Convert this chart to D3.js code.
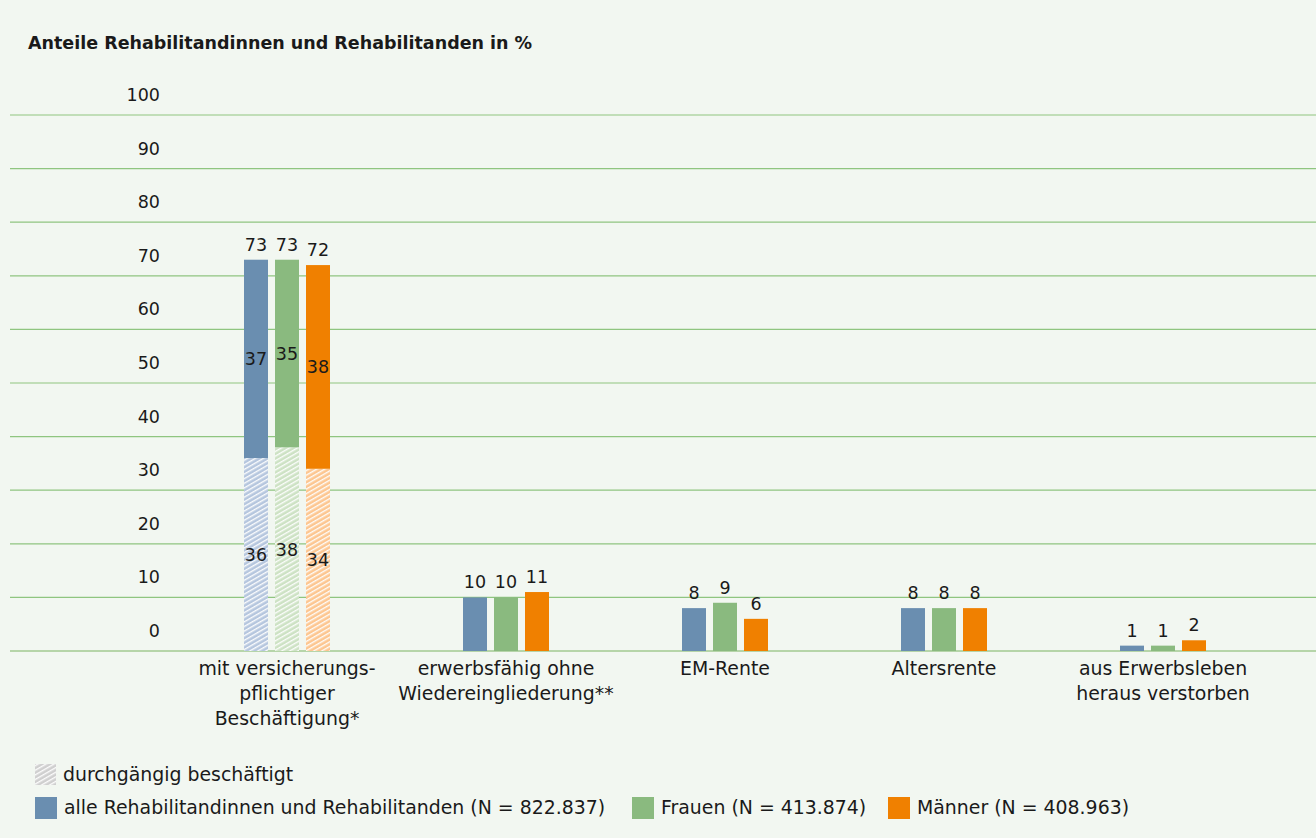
<!DOCTYPE html>
<html><head><meta charset="utf-8">
<script src="https://cdn.jsdelivr.net/npm/d3@7"></script>
<style>
html,body{margin:0;padding:0;background:#f2f7f1;}
svg{display:block;}
text{font-family:"DejaVu Sans",sans-serif;fill:#1a1a1a;}
</style></head>
<body>
<svg id="chart" width="1316" height="838"></svg>
<script>
const categories = [
  ["mit versicherungs-","pflichtiger","Beschäftigung*"],
  ["erwerbsfähig ohne","Wiedereingliederung**"],
  ["EM-Rente"],
  ["Altersrente"],
  ["aus Erwerbsleben","heraus verstorben"]
];
const seriesNames = ["alle Rehabilitandinnen und Rehabilitanden (N = 822.837)","Frauen (N = 413.874)","Männer (N = 408.963)"];
const totals = [
  [73,73,72],
  [10,10,11],
  [8,9,6],
  [8,8,8],
  [1,1,2]
];
// durchgängig beschäftigt (lower hatched part) in category 1
const continuous = [36,38,34];
const upper = [37,35,38];
const yTicks = [0,10,20,30,40,50,60,70,80,90,100];
const colors = ["#6a8eb0","#8aba7f","#f08000"];
const lightColors = ["#b5c6de","#cde2c4","#fdc690"];

const svg = d3.select("#chart");
const W = 1316, H = 838;
svg.append("rect").attr("width",W).attr("height",H).attr("fill","#f2f7f1");

const defs = svg.append("defs");
function hatch(id, bg){
  const p = defs.append("pattern").attr("id",id).attr("patternUnits","userSpaceOnUse")
    .attr("width",4).attr("height",4).attr("patternTransform","rotate(60)");
  p.append("rect").attr("width",4).attr("height",4).attr("fill",bg);
  p.append("line").attr("x1",0.7).attr("y1",0).attr("x2",0.7).attr("y2",4)
    .attr("stroke","#ffffff").attr("stroke-width",1.3);
}
lightColors.forEach((c,i)=>hatch("h"+i,c));
hatch("hg","#cfcfcf");

const y = d3.scaleLinear().domain([0,100]).range([651,115]);
const x = d3.scaleBand().domain(d3.range(categories.length)).range([177.5,1272.5]);
const xs = d3.scaleBand().domain([0,1,2]).range([-43,43]).paddingInner(7/31);

const fs = 17.5;   // numbers
const ft = 18.9;   // words
// title
svg.append("text").attr("x",28).attr("y",49).attr("font-size",17.5).attr("font-weight","bold")
  .text("Anteile Rehabilitandinnen und Rehabilitanden in %");

// gridlines
svg.append("g").selectAll("line").data(yTicks).join("line")
  .attr("x1",10).attr("x2",W).attr("y1",d=>y(d)).attr("y2",d=>y(d))
  .attr("stroke",d=>d===0?"#b6d5a9":"#8fc580").attr("stroke-width",d=>d===0?2:1.2);

// y tick labels (above lines)
svg.append("g").selectAll("text").data(yTicks).join("text")
  .attr("x",160).attr("y",d=>y(d)-14).attr("text-anchor","end").attr("font-size",fs)
  .text(d=>d);

const g = svg.append("g");
totals.forEach((vals,ci)=>{
  const gx = x(ci)+x.bandwidth()/2;
  vals.forEach((v,si)=>{
    const bx = gx + xs(si);
    const bw = xs.bandwidth();
    if(ci===0){
      g.append("rect").attr("x",bx).attr("width",bw)
        .attr("y",y(continuous[si])).attr("height",y(0)-y(continuous[si]))
        .attr("fill","url(#h"+si+")");
      g.append("rect").attr("x",bx).attr("width",bw)
        .attr("y",y(v)).attr("height",y(continuous[si])-y(v))
        .attr("fill",colors[si]);
      g.append("text").attr("x",bx+bw/2).attr("y",(y(v)+y(continuous[si]))/2+6.5)
        .attr("text-anchor","middle").attr("font-size",fs).text(upper[si]);
      g.append("text").attr("x",bx+bw/2).attr("y",(y(continuous[si])+y(0))/2+6.5)
        .attr("text-anchor","middle").attr("font-size",fs).text(continuous[si]);
    } else {
      g.append("rect").attr("x",bx).attr("width",bw)
        .attr("y",y(v)).attr("height",y(0)-y(v)).attr("fill",colors[si]);
    }
    g.append("text").attr("x",bx+bw/2).attr("y",y(v)-9)
      .attr("text-anchor","middle").attr("font-size",fs).text(v);
  });
  const t = svg.append("text").attr("text-anchor","middle").attr("font-size",ft);
  categories[ci].forEach((line,li)=>{
    t.append("tspan").attr("x",gx).attr("y",675+li*25).text(line);
  });
});

// legend
svg.append("rect").attr("x",35).attr("y",764).attr("width",21).attr("height",21).attr("fill","url(#hg)");
svg.append("text").attr("x",63).attr("y",781).attr("font-size",ft).text("durchgängig beschäftigt");
const legX = [35,632,888];
seriesNames.forEach((n,i)=>{
  svg.append("rect").attr("x",legX[i]).attr("y",797).attr("width",22).attr("height",22).attr("fill",colors[i]);
  svg.append("text").attr("x",legX[i]+29).attr("y",814).attr("font-size",ft).text(n);
});
</script>
</body></html>
